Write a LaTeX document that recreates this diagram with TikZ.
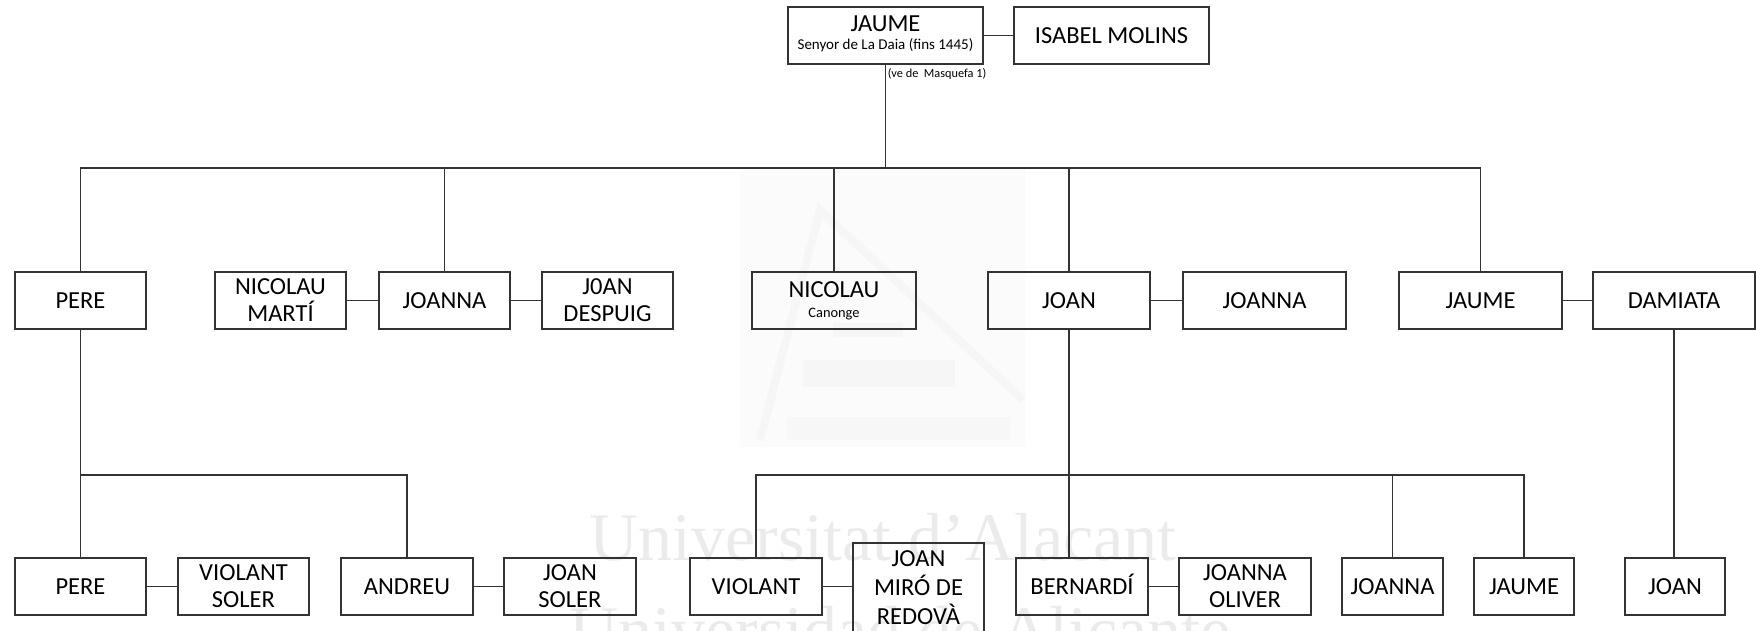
\documentclass[tikz,border=0pt]{standalone}
\usepackage{fontspec}
\setmainfont{Carlito}
\newfontfamily\wmfont{Liberation Serif}
\usetikzlibrary{calc}
\begin{document}
\begin{tikzpicture}[x=1pt,y=-1pt,
  boxnode/.style={draw=black!80, line width=1.3pt, inner sep=0pt, align=center,
    font=\fontsize{24.5}{27}\selectfont},
  single/.style={boxnode, text height=15.5pt, text depth=0pt},
  link/.style={draw=black!80, line width=1.3pt},
  wm/.style={text=black!8, font=\wmfont\fontsize{68}{80}\selectfont, anchor=base}]
\useasboundingbox (0,0) rectangle (1756,630);
% faint watermark
\fill[black!1.5] (740,170) rectangle (1025,447);
\draw[black!3.5, line width=8pt] (760,440) -- (820,210) -- (1023,400);
\fill[black!3.5] (833,323) rectangle (903,337);
\fill[black!3.5] (803,360) rectangle (955,387);
\fill[black!3] (787,417) rectangle (1010,440);
\node[wm] (wm1) at (883,560) {Universitat d’Alacant};
\node[wm] (wm2) at (900,653) {Universidad de Alicante};
% top
\node[boxnode, minimum width=195pt, minimum height=57pt, font=\fontsize{24.5}{17.5}\selectfont] (jtop) at (885.5,35.5)
  {JAUME\\{\fontsize{15}{17.5}\selectfont Senyor de La Daia (fins 1445)\rule[-6pt]{0pt}{6pt}}};
\node[single, minimum width=195pt, minimum height=57pt] (isabel) at (1111.5,35.5) {ISABEL MOLINS};
\node[font=\fontsize{12.3}{14}\selectfont, anchor=base, inner sep=0pt] (vede) at (937,77.7) {(ve de\ \ Masquefa 1)};
% row 2
\node[single, minimum width=131pt, minimum height=57pt] (pere2) at (80.5,300.5) {PERE};
\node[boxnode, minimum width=131pt, minimum height=57pt] (nmarti) at (280.5,300.5) {NICOLAU\\MARTÍ};
\node[single, minimum width=131pt, minimum height=57pt] (joanna2) at (444.5,300.5) {JOANNA};
\node[boxnode, minimum width=131pt, minimum height=57pt] (despuig) at (607.5,300.5) {J0AN\\DESPUIG};
\node[boxnode, minimum width=164pt, minimum height=57pt, font=\fontsize{24.5}{20}\selectfont] (nicolau) at (834,300.5)
  {NICOLAU\\{\fontsize{14.4}{20}\selectfont Canonge}};
\node[single, minimum width=162pt, minimum height=57pt] (joan2) at (1069,300.5) {JOAN};
\node[single, minimum width=163pt, minimum height=57pt] (joanna2b) at (1264.5,300.5) {JOANNA};
\node[single, minimum width=163pt, minimum height=57pt] (jaume2) at (1480.5,300.5) {JAUME};
\node[single, minimum width=162pt, minimum height=57pt] (damiata) at (1674,300.5) {DAMIATA};
% row 3
\node[single, minimum width=131pt, minimum height=57pt] (pere3) at (80.5,586.5) {PERE};
\node[boxnode, minimum width=131pt, minimum height=57pt] (vsoler) at (243.5,586.5) {VIOLANT\\SOLER};
\node[single, minimum width=132pt, minimum height=57pt] (andreu) at (407,586.5) {ANDREU};
\node[boxnode, minimum width=132pt, minimum height=57pt] (jsoler) at (570,586.5) {JOAN\\SOLER};
\node[single, minimum width=132pt, minimum height=57pt] (violant) at (756,586.5) {VIOLANT};
\node[boxnode, minimum width=131pt, minimum height=90pt, font=\fontsize{24.5}{29}\selectfont] (miro) at (918.5,588)
  {JOAN\\MIRÓ DE\\REDOVÀ};
\node[single, minimum width=132pt, minimum height=57pt] (bernardi) at (1082,586.5) {BERNARDÍ};
\node[boxnode, minimum width=132pt, minimum height=57pt] (joliver) at (1245,586.5) {JOANNA\\OLIVER};
\node[single, minimum width=101pt, minimum height=57pt] (joanna3) at (1392.5,586.5) {JOANNA};
\node[single, minimum width=100pt, minimum height=57pt] (jaume3) at (1524,586.5) {JAUME};
\node[single, minimum width=100pt, minimum height=57pt] (joan3) at (1675,586.5) {JOAN};
% connectors
\coordinate (bar1) at (0,168);
\coordinate (bar2) at (0,475);
\draw[link] (jtop) -- (isabel);
\draw[link] (jtop.south) -- (jtop.south |- bar1);
\draw[link] (pere2.north) |- (jaume2.north |- bar1) -- (jaume2.north);
\foreach \n in {joanna2, nicolau, joan2} \draw[link] (\n.north) -- (\n.north |- bar1);
\draw[link] (nmarti) -- (joanna2);
\draw[link] (joanna2) -- (despuig);
\draw[link] (joan2) -- (joanna2b);
\draw[link] (jaume2) -- (damiata);
\draw[link] (pere2.south) -- (pere3.north);
\draw[link] (andreu.north) |- (pere2.south |- bar2);
\draw[link] (pere3) -- (vsoler);
\draw[link] (andreu) -- (jsoler);
\draw[link] (violant.east) -- (violant.east -| miro.west);
\draw[link] (bernardi) -- (joliver);
\draw[link] (joan2.south) -- (joan2.south |- bernardi.north);
\draw[link] (violant.north) |- (jaume3.north |- bar2) -- (jaume3.north);
\draw[link] (joanna3.north) -- (joanna3.north |- bar2);
\draw[link] (damiata.south) -- (damiata.south |- joan3.north);
\end{tikzpicture}
\end{document}
